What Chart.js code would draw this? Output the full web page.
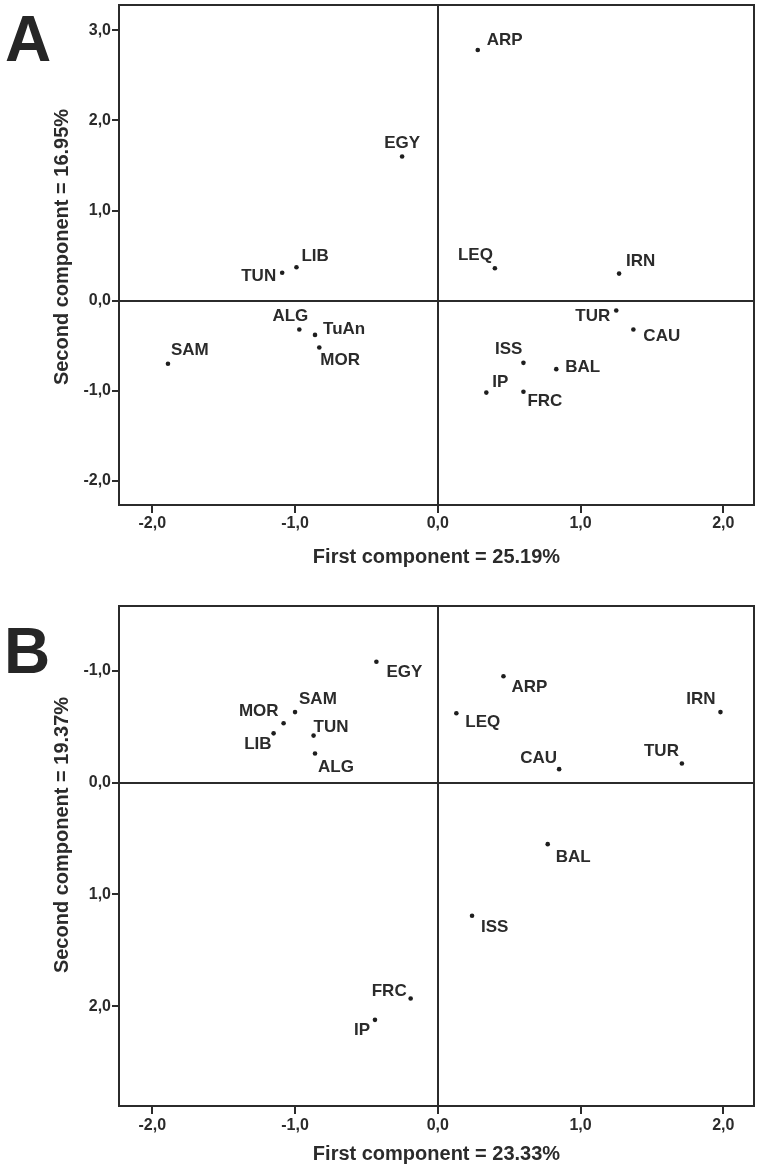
<!DOCTYPE html>
<html>
<head>
<meta charset="utf-8">
<script src="https://cdn.jsdelivr.net/npm/chart.js@4/dist/chart.umd.min.js"></script>
<style>
  html, body { margin:0; padding:0; background:#fff; }
  #wrap { position:relative; width:760px; height:1170px; }
  canvas { position:absolute; left:0; }
  #cA { top:0; }
  #cB { top:600px; }
  .panel { position:absolute; font:bold 64px "Liberation Sans", Arial, sans-serif; line-height:1; color:#262626; }
</style>
</head>
<body>
<div id="wrap">
  <canvas id="cA" width="760" height="590"></canvas>
  <canvas id="cB" width="760" height="570"></canvas>
  <div class="panel" style="left:5px; top:7px;">A</div>
  <div class="panel" style="left:4px; top:619px;">B</div>
</div>
<script>
// ---- Panel A data (PC1 vs PC2) ----
const namesA = ['ARP','EGY','LEQ','IRN','LIB','TUN','ALG','TuAn','MOR','SAM','TUR','CAU','ISS','BAL','IP','FRC'];
const pc1A   = [0.28, -0.25, 0.40, 1.27, -0.99, -1.09, -0.97, -0.86, -0.83, -1.89, 1.25, 1.37, 0.60, 0.83, 0.34, 0.60];
const pc2A   = [2.78, 1.60, 0.36, 0.30, 0.37, 0.31, -0.32, -0.38, -0.52, -0.70, -0.11, -0.32, -0.69, -0.76, -1.02, -1.01];
const xTitleA = 'First component = 25.19%';
const yTitleA = 'Second component = 16.95%';
const yTicksA = [-2, -1, 0, 1, 2, 3];
const yTickLabelsA = ['-2,0','-1,0','0,0','1,0','2,0','3,0'];

// ---- Panel B data ----
const namesB = ['EGY','ARP','IRN','SAM','MOR','LEQ','LIB','TUN','ALG','TUR','CAU','BAL','ISS','FRC','IP'];
const pc1B   = [-0.43, 0.46, 1.98, -1.00, -1.08, 0.13, -1.15, -0.87, -0.86, 1.71, 0.85, 0.77, 0.24, -0.19, -0.44];
const pc2B   = [-1.08, -0.95, -0.63, -0.63, -0.53, -0.62, -0.44, -0.42, -0.26, -0.17, -0.12, 0.55, 1.19, 1.93, 2.12];
const xTitleB = 'First component = 23.33%';
const yTitleB = 'Second component = 19.37%';
const yTicksB = [-1, 0, 1, 2];
const yTickLabelsB = ['-1,0','0,0','1,0','2,0'];

// shared x ticks
const xTicks = [-2, -1, 0, 1, 2];
const xTickLabels = ['-2,0','-1,0','0,0','1,0','2,0'];

// label placement: [dx, dy, align] from the dot (layout only)
const labelPosA = [[9,-10,'left'],[0,-13,'center'],[-2,-13,'right'],[7,-12,'left'],[5,-11,'left'],[-6,4,'right'],
  [9,-13,'right'],[8,-6,'left'],[1,13,'left'],[3,-13,'left'],[-6,6,'right'],[10,7,'left'],[-1,-14,'right'],
  [9,-2,'left'],[6,-10,'left'],[4,10,'left']];
const labelPosB = [[10,11,'left'],[8,11,'left'],[-5,-13,'right'],[4,-13,'left'],[-5,-12,'right'],[9,9,'left'],
  [-2,11,'right'],[0,-8,'left'],[3,14,'left'],[-3,-12,'right'],[-2,-11,'right'],[8,13,'left'],[9,12,'left'],
  [-4,-7,'right'],[-5,10,'right']];

const INK = '#2b2b2b';
const FONT = '"Liberation Sans", Arial, sans-serif';
Chart.defaults.font.family = FONT;
Chart.defaults.font.weight = 'bold';
Chart.defaults.color = INK;

// frame round the plot area
const framePlugin = {
  id: 'frame',
  beforeDatasetsDraw(chart){
    const a = chart.chartArea, ctx = chart.ctx;
    ctx.save();
    ctx.strokeStyle = INK; ctx.lineWidth = 2;
    ctx.strokeRect(a.left, a.top, a.right - a.left, a.bottom - a.top);
    ctx.restore();
  }
};

// text next to each dot, plus the rotated y title (not centred on the axis in the original)
const pointLabels = {
  id: 'pointLabels',
  afterDatasetsDraw(chart, args, opts){
    const ctx = chart.ctx;
    const meta = chart.getDatasetMeta(0);
    ctx.save();
    ctx.font = 'bold 17px ' + FONT;
    ctx.fillStyle = INK;
    ctx.textBaseline = 'middle';
    meta.data.forEach((pt, i) => {
      const p = opts.pos[i];
      ctx.textAlign = p[2];
      ctx.fillText(opts.names[i], pt.x + p[0], pt.y + p[1]);
    });
    ctx.translate(62.5, opts.yTitleY);
    ctx.rotate(-Math.PI / 2);
    ctx.textAlign = 'center';
    ctx.font = 'bold 20px ' + FONT;
    ctx.fillText(opts.yTitle, 0, 0);
    ctx.restore();
  }
};

function zeroGrid(c){ return c.tick && c.tick.value === 0 ? INK : 'rgba(0,0,0,0)'; }

function makeChart(id, o){
  return new Chart(document.getElementById(id), {
    type: 'scatter',
    data: { datasets: [{ data: o.xs.map((x, i) => ({ x, y: o.ys[i] })),
      backgroundColor: '#1e1e1e', borderWidth: 0, pointRadius: 2.3, pointHoverRadius: 2.3 }] },
    options: {
      responsive: false, animation: false, events: [],
      layout: { padding: { top: o.padTop, right: 6, left: 0, bottom: 0 } },
      plugins: { legend: { display: false }, tooltip: { enabled: false },
        pointLabels: { names: o.names, pos: o.pos, yTitle: o.yTitle, yTitleY: o.yTitleY } },
      scales: {
        x: {
          type: 'linear', min: -2.233, max: 2.215,
          afterBuildTicks: s => { s.ticks = xTicks.map(v => ({ value: v })); },
          afterFit: s => { s.height = o.xAxisH; s.paddingLeft = 0; s.paddingRight = 0; },
          ticks: { callback: (v, i) => xTickLabels[i], font: { size: 16 }, padding: o.xTickPad, maxRotation: 0 },
          grid: { color: zeroGrid, lineWidth: 2, tickColor: INK, tickLength: 8, tickWidth: 2 },
          border: { display: false },
          title: { display: true, text: o.xTitle, font: { size: 20 }, padding: { top: 0, bottom: o.xTitlePad } }
        },
        y: {
          type: 'linear', min: o.yMin, max: o.yMax, reverse: o.reverse,
          afterBuildTicks: s => { s.ticks = o.yTicks.map(v => ({ value: v })); },
          afterFit: s => { s.width = 119; s.paddingTop = 0; s.paddingBottom = 0; },
          ticks: { callback: (v, i) => o.yTickLabels[i], font: { size: 16 }, padding: 1 },
          grid: { color: zeroGrid, lineWidth: 2, tickColor: INK, tickLength: 7, tickWidth: 2 },
          border: { display: false }
        }
      }
    },
    plugins: [framePlugin, pointLabels]
  });
}

makeChart('cA', { xs: pc1A, ys: pc2A, names: namesA, pos: labelPosA,
  padTop: 5, xAxisH: 85, xTickPad: 1, xTitlePad: 21, xTitle: xTitleA, yTitle: yTitleA, yTitleY: 247,
  yMin: -2.267, yMax: 3.28, reverse: false, yTicks: yTicksA, yTickLabels: yTickLabelsA });

makeChart('cB', { xs: pc1B, ys: pc2B, names: namesB, pos: labelPosB,
  padTop: 6, xAxisH: 64, xTickPad: 2, xTitlePad: 4, xTitle: xTitleB, yTitle: yTitleB, yTitleY: 235,
  yMin: -1.578, yMax: 2.89, reverse: true, yTicks: yTicksB, yTickLabels: yTickLabelsB });
</script>
</body>
</html>
